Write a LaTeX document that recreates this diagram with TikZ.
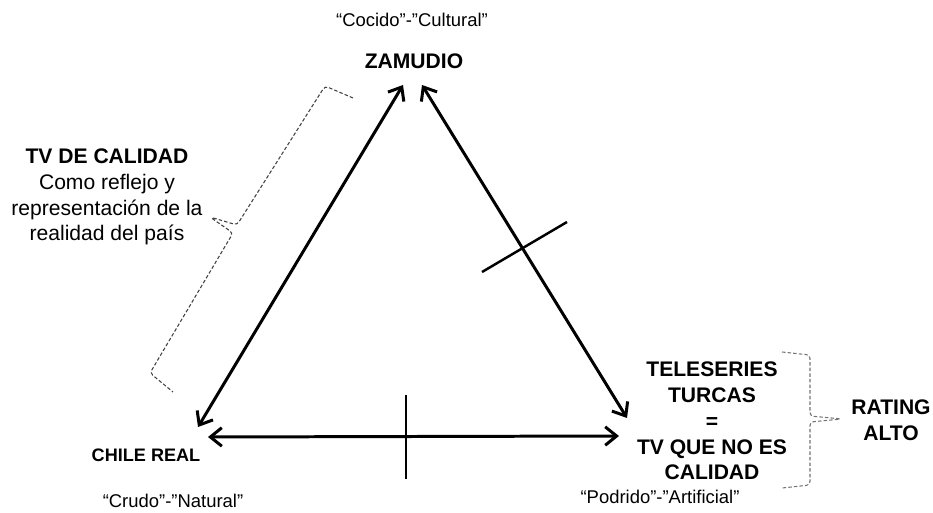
\documentclass[tikz,border=0pt]{standalone}
\usepackage{fontspec}
\setmainfont{Liberation Sans}
\usetikzlibrary{arrows.meta}
\begin{document}
\begin{tikzpicture}[x=0.02cm,y=-0.02cm,
  bigtxt/.style={font=\fontsize{12}{14.7}\selectfont\bfseries, align=center, inner sep=0pt},
  regtxt/.style={font=\fontsize{12}{14.7}\selectfont, align=center, inner sep=0pt},
  smalltxt/.style={font=\fontsize{10.5}{12}\selectfont, inner sep=0pt},
  chiletxt/.style={font=\fontsize{10.3}{12}\selectfont\bfseries, inner sep=0pt},
  conn/.style={line width=1.7pt, {Straight Barb[length=6.5pt,width=10.5pt]}-{Straight Barb[length=6.5pt,width=10.5pt]}},
  crossmark/.style={line width=1.4pt},
  lbrace/.style={line width=0.6pt, black!75, dash pattern=on 2pt off 1.2pt, rounded corners=2pt},
  rbrace/.style={line width=0.6pt, black!55, dash pattern=on 2pt off 1.2pt, rounded corners=2pt}]
\useasboundingbox (0,0) rectangle (933,513);

% labels
\node[smalltxt] (cocido) at (412,20) {“Cocido”-”Cultural”};
\node[bigtxt] (zamudio) at (414,61) {ZAMUDIO};
\node[chiletxt] (chile) at (146,455) {CHILE REAL};
\node[smalltxt] (crudo) at (173,501) {“Crudo”-”Natural”};
\node[smalltxt] (podrido) at (660,497) {“Podrido”-”Artificial”};
\node[regtxt] (calidad) at (107,197) {\textbf{TV DE CALIDAD}\\Como reflejo y\\representación de la\\realidad del país};
\node[bigtxt] (turcas) at (712,421) {TELESERIES\\TURCAS\\=\\TV QUE NO ES\\CALIDAD};
\node[bigtxt] (rating) at (891,420) {RATING\\ALTO};

% arrow end points
\coordinate (zl) at (403,85);
\coordinate (zr) at (422,85);
\coordinate (cl) at (198,427);
\coordinate (cb) at (208,437);
\coordinate (tt) at (627,418);
\coordinate (tb) at (619,436);

\draw[conn] (zl) -- (cl);
\draw[conn] (zr) -- (tt);
\draw[conn] (cb) -- (tb);

% cross marks
\coordinate (m1a) at (482,272);
\coordinate (m1b) at (567,222);
\coordinate (m2a) at (406,395);
\coordinate (m2b) at (406,479);
\draw[crossmark] (m1a) -- (m1b);
\draw[crossmark] (m2a) -- (m2b);

% braces
\draw[lbrace] (353,98) -- (325,86) -- (237,225) -- (210,217) -- (233,233) -- (150,373) -- (173,392);
\draw[rbrace] (782,352) -- (810,355) -- (810,416) -- (842,419) -- (810,422) -- (810,485) -- (782,488);
\end{tikzpicture}
\end{document}
